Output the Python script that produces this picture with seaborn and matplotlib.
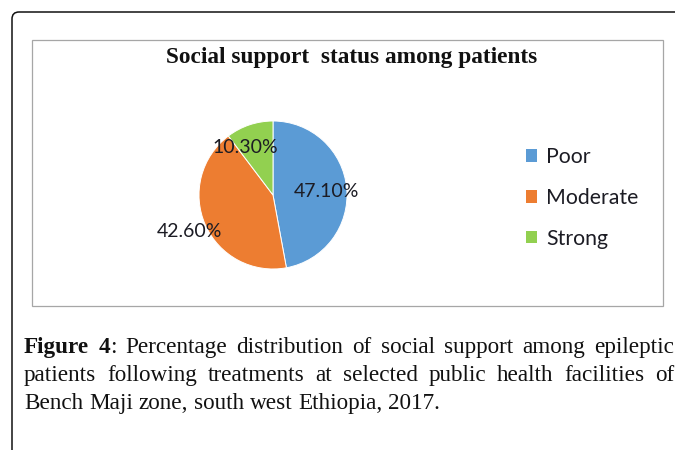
import matplotlib
matplotlib.use("Agg")
import matplotlib.pyplot as plt
import seaborn as sns
from matplotlib.patches import FancyBboxPatch, Rectangle
import numpy as np

# ---- data ----
categories = ["Poor", "Moderate", "Strong"]
shares = [47.1, 42.6, 10.3]
pct_labels = ["47.10%", "42.60%", "10.30%"]
chart_title = "Social support  status among patients"
caption_lines = [
    [[("Figure", "bold")], [("4", "bold"), (":", "normal")],
     "Percentage", "distribution", "of", "social", "support", "among", "epileptic"],
    ["patients", "following", "treatments", "at", "selected", "public",
     "health", "facilities", "of"],
    ["Bench", "Maji", "zone,", "south", "west", "Ethiopia,", "2017."],
]

sns.set_theme(style="white")
plt.rcParams["font.family"] = ["Lato", "DejaVu Sans"]

W, H = 675, 450
fig = plt.figure(figsize=(W / 100, H / 100), dpi=100)
fig.patch.set_facecolor("white")


def fx(px):
    return px / W


def fy(py):
    return 1 - py / H


# page frame with a rounded corner, and the chart box
frame = FancyBboxPatch((0.12, -0.6), 7.5, 4.38 + 0.6,
                       boxstyle="round,pad=0,rounding_size=0.07",
                       transform=fig.dpi_scale_trans, fill=False,
                       edgecolor="#111111", linewidth=1.1)
fig.patches.append(frame)
chart_box = Rectangle((0.32, 1.44), 6.31, 2.66, transform=fig.dpi_scale_trans,
                      fill=False, edgecolor="#a6a6a6", linewidth=0.9)
fig.patches.append(chart_box)

fig.text(fx(352), fy(63), chart_title, ha="center", va="baseline",
         family="Liberation Serif", weight="bold", fontsize=16.8, color="#111111")

# ---- pie ----
colors = ["#5b9bd5", "#ed7d31", "#92d050"]
cx, cy, r = 273, 195, 74
ax = fig.add_axes([fx(cx - r), fy(cy + r), 2 * r / W, 2 * r / H])
wedges, _ = ax.pie(shares, colors=colors, startangle=90, counterclock=False,
                   wedgeprops=dict(edgecolor="white", linewidth=0.7))
ax.set_xlim(-1, 1)
ax.set_ylim(-1, 1)
ax.set_axis_off()

label_radius = [0.73, 1.23, 0.74]
label_shift = [-2, 0, 12]
for w, txt, rf, sh in zip(wedges, pct_labels, label_radius, label_shift):
    ang = np.deg2rad((w.theta1 + w.theta2) / 2 + sh)
    ax.text(rf * np.cos(ang), rf * np.sin(ang), txt, ha="center", va="center",
            fontsize=14, color="#1c1c24")

leg = fig.legend(wedges, categories, loc="center left",
                 bbox_to_anchor=(fx(526), fy(198)), frameon=False, fontsize=15.3,
                 handlelength=0.52, handleheight=0.52, handletextpad=0.42,
                 labelspacing=0.98, borderpad=0, borderaxespad=0)
for t in leg.get_texts():
    t.set_color("#1c1c24")
for h in leg.legend_handles:
    h.set_edgecolor("none")

# ---- justified caption ----
serif = "Liberation Serif"
cap_size = 16.7
renderer = fig.canvas.get_renderer()


def seg_width(s, weight):
    t = fig.text(0, 0, s, fontsize=cap_size, family=serif, weight=weight)
    wpx = t.get_window_extent(renderer).width
    t.remove()
    return wpx


def as_segments(tok):
    return [(tok, "normal")] if isinstance(tok, str) else tok


x_left, x_right = 24, 674
baselines = [353, 381, 409]
for i, (line, base) in enumerate(zip(caption_lines, baselines)):
    toks = [as_segments(t) for t in line]
    widths = [[seg_width(s, wt) for s, wt in tok] for tok in toks]
    total = sum(sum(ws) for ws in widths)
    if i < len(caption_lines) - 1:
        gap = (x_right - x_left - total) / (len(toks) - 1)
    else:
        gap = seg_width(" ", "normal")
    x = x_left
    for tok, ws in zip(toks, widths):
        for (s, wt), wpx in zip(tok, ws):
            fig.text(fx(x), fy(base), s, ha="left", va="baseline", family=serif,
                     weight=wt, fontsize=cap_size, color="#111111")
            x += wpx
        x += gap

fig.savefig("out.png", dpi=100)
